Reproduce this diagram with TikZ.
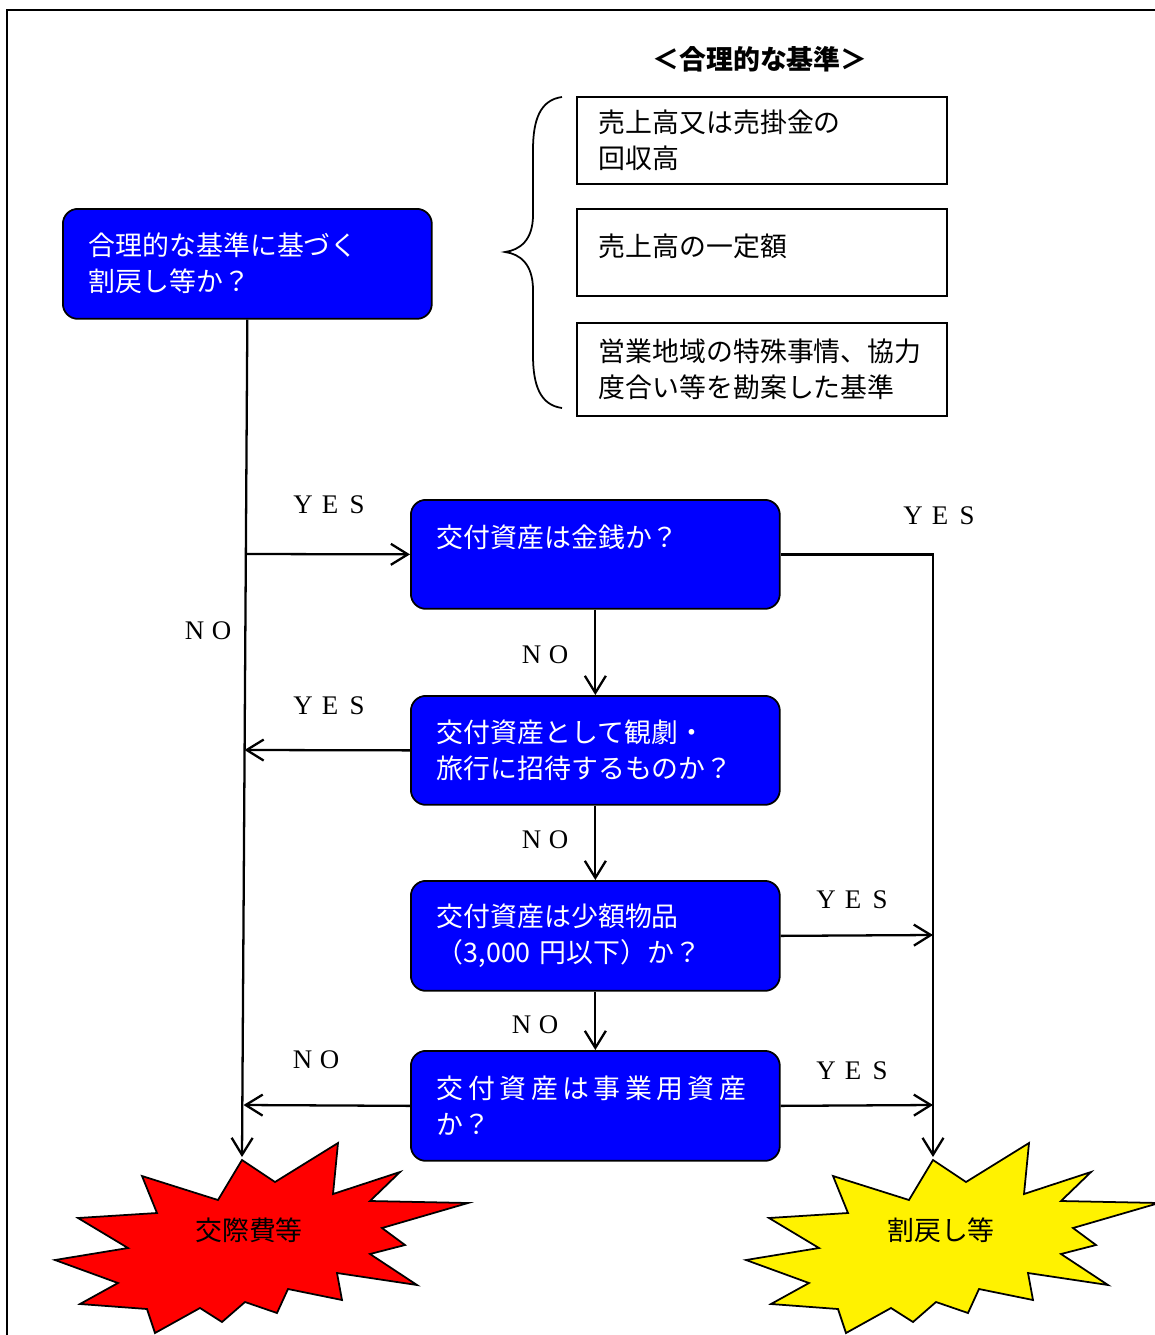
\documentclass[tikz,border=0pt]{standalone}
\usepackage{fontspec}
\setmainfont{Noto Sans CJK JP}
\newfontfamily\labfont{Liberation Serif}
\usetikzlibrary{arrows.meta}
\newcommand{\cjkfs}{\fontsize{15.3pt}{20.5pt}\selectfont}
\newcommand{\fwl}[1]{\makebox[0.54cm]{#1}}
\newcommand{\lsp}{\hspace{0.09cm}}
\begin{document}
\begin{tikzpicture}[x=0.02cm,y=-0.02cm,
  qbox/.style={draw=black, line width=1pt, fill=blue, rounded corners=0.3cm, text=white,
    anchor=north west, text width=6.34cm, inner xsep=0.52cm, inner ysep=0pt, align=left, font=\cjkfs},
  critbox/.style={draw=black, line width=1pt, fill=white, anchor=north west,
    text width=6.52cm, inner xsep=0.44cm, inner ysep=0pt, align=left, font=\cjkfs},
  arr/.style={-{Straight Barb[length=0.34cm,width=0.42cm,line width=1.3pt]}, line width=1.3pt},
  lab/.style={font=\labfont\fontsize{15.3pt}{18pt}\selectfont, inner sep=0pt},
  starlbl/.style={font=\cjkfs, inner sep=0pt},
  burst/.pic={\path[pic actions] (0,0) -- (33,22) -- (96,-17) -- (91,34) -- (158,12) -- (128,41)
     -- (226,43) -- (140,68) -- (163,85) -- (128,94) -- (175,125) -- (95,113) -- (100,140)
     -- (46,129) -- (35,153) -- (3,142) -- (-20,162) -- (-42,148) -- (-87,173) -- (-95,149)
     -- (-162,144) -- (-124,123) -- (-187,100) -- (-114,88) -- (-164,58) -- (-85,53)
     -- (-100,16) -- (-24,40) -- cycle;}
]
\useasboundingbox (0,0) rectangle (1155,1335);
% frame
\draw[line width=1.2pt] (7,1340) -- (7,10) -- (1160,10);

% title and criteria
\node[font=\cjkfs\bfseries, inner sep=0pt] (T) at (760,59) {＜合理的な基準＞};
\node[critbox, minimum height=1.74cm] (K1) at (576,96) {\raisebox{0.06cm}{売上高又は売掛金の}\\\raisebox{0.06cm}{回収高}};
\node[critbox, minimum height=1.74cm] (K2) at (576,208) {\raisebox{0.28cm}{売上高の一定額}};
\node[critbox, minimum height=1.86cm] (K3) at (576,322) {営業地域の特殊事情、協力\\度合い等を勘案した基準};
\draw[line width=1pt] (562,97) .. controls (540,100) and (533,120) .. (533,150) -- (533,215)
  .. controls (533,240) and (520,250) .. (505,252)
  .. controls (520,254) and (533,264) .. (533,290) -- (533,355)
  .. controls (533,385) and (540,405) .. (562,408);

% decision boxes
\node[qbox, minimum height=2.2cm] (A) at (62,208) {\raisebox{0.06cm}{合理的な基準に基づく}\\\raisebox{0.06cm}{割戻し等か？}};
\node[qbox, minimum height=2.18cm] (B) at (410,499) {交付資産は金銭か？\\\mbox{}};
\node[qbox, minimum height=2.18cm] (C) at (410,695) {\raisebox{0.05cm}{交付資産として観劇・}\\\raisebox{0.05cm}{旅行に招待するものか？}};
\node[qbox, minimum height=2.2cm] (D) at (410,880) {交付資産は少額物品\\（3,000 円以下）か？};
\node[qbox, minimum height=2.2cm] (E) at (410,1050) {交\lsp 付\lsp 資\lsp 産\lsp は\lsp 事\lsp 業\lsp 用\lsp 資\lsp 産\\か？};

% starbursts
\coordinate (redtip) at (242,1160);
\coordinate (yeltip) at (933,1160);
\pic[draw=black, line width=1pt, fill=red] at (redtip) {burst};
\pic[draw=black, line width=1pt, fill=yellow] at (yeltip) {burst};
\node[starlbl] (RL) at (249,1230) {交際費等};
\node[starlbl] (YL) at (941,1230) {割戻し等};

% connectors
\coordinate (m1) at (245,554);
\coordinate (m2) at (244.5,750);
\coordinate (m3) at (243.5,1105);
\coordinate (r3) at (933,935);
\coordinate (r4) at (933,1105);
\draw[arr] (A.south) -- ([yshift=0.06cm]redtip);
\draw[arr] (m1) -- (B.west);
\draw[arr] (C.west) -- (m2);
\draw[arr] (E.west) -- (m3);
\draw[arr] (B.east) -| ([yshift=0.06cm]yeltip);
\draw[arr] (B.south) -- (C.north);
\draw[arr] (C.south) -- (D.north);
\draw[arr] (D.south) -- (E.north);
\draw[arr] (D.east) -- (r3);
\draw[arr] (E.east) -- (r4);

% labels
\node[lab] (y1) at (330,505) {\fwl{Y}\fwl{E}\fwl{S}};
\node[lab] (n1) at (208,631) {\fwl{N}\fwl{O}};
\node[lab] (y2) at (940,516) {\fwl{Y}\fwl{E}\fwl{S}};
\node[lab] (n2) at (545,655) {\fwl{N}\fwl{O}};
\node[lab] (y3) at (330,706) {\fwl{Y}\fwl{E}\fwl{S}};
\node[lab] (n3) at (545,840) {\fwl{N}\fwl{O}};
\node[lab] (y4) at (853,900) {\fwl{Y}\fwl{E}\fwl{S}};
\node[lab] (n4) at (535,1025) {\fwl{N}\fwl{O}};
\node[lab] (n5) at (316,1060) {\fwl{N}\fwl{O}};
\node[lab] (y5) at (853,1071) {\fwl{Y}\fwl{E}\fwl{S}};
\end{tikzpicture}
\end{document}
